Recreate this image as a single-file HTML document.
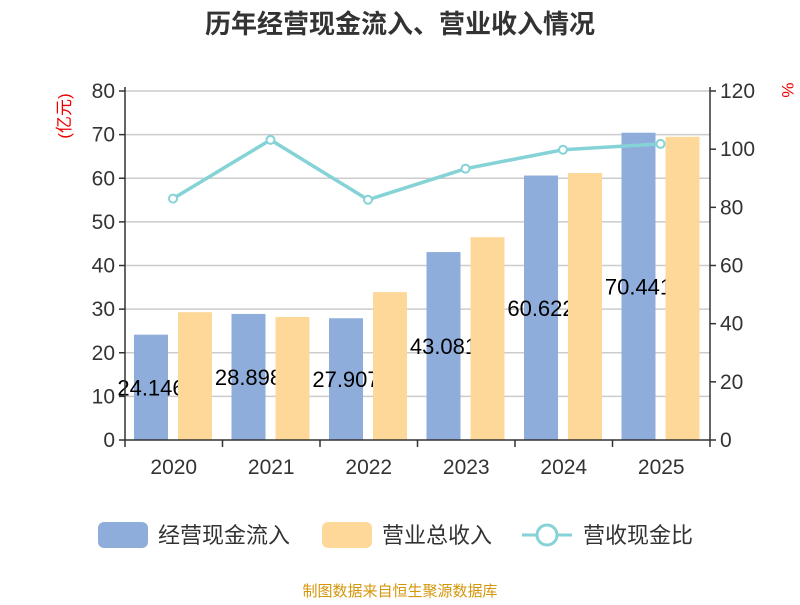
<!DOCTYPE html>
<html><head><meta charset="utf-8"><style>
body{margin:0;background:#fff;}
svg text{font-family:"Liberation Sans","Noto Sans CJK SC",sans-serif;}
</style></head><body>
<svg width="800" height="600" xmlns="http://www.w3.org/2000/svg">
<text x="400" y="33" text-anchor="middle" font-size="26" font-weight="bold" fill="#333">历年经营现金流入、营业收入情况</text>
<g id="grid"></g><g id="bars1"></g><g id="labels"></g><g id="bars2"></g><g id="axes"></g><g id="line"></g>
<text transform="translate(70,116) rotate(-90)" text-anchor="middle" font-size="17" fill="#e00">(亿元)</text>
<text transform="translate(782,90) rotate(90)" text-anchor="middle" font-size="17" fill="#e00">%</text>
<g>
<rect x="98" y="522" width="50" height="26" rx="6" fill="#8eaddb"/>
<text x="158" y="543" font-size="22" fill="#333">经营现金流入</text>
<rect x="322" y="522" width="50" height="26" rx="6" fill="#fed898"/>
<text x="382" y="543" font-size="22" fill="#333">营业总收入</text>
<line x1="522" y1="535" x2="572" y2="535" stroke="#85d3d6" stroke-width="3"/>
<circle cx="547" cy="535" r="10" fill="#fff" stroke="#85d3d6" stroke-width="3"/>
<text x="583" y="543" font-size="22" fill="#333">营收现金比</text>
</g>
<text x="400" y="596" text-anchor="middle" font-size="15" fill="#d4960a">制图数据来自恒生聚源数据库</text>
</svg>
<script>
const categories=["2020","2021","2022","2023","2024","2025"];
const cashValues=[24.146,28.898,27.907,43.081,60.622,70.441];
const cashLabels=["24.146","28.898","27.907","43.081","60.622","70.441"];
const revenueValues=[29.3,28.2,33.9,46.5,61.2,69.5];
const ratioValues=[83,103.2,82.6,93.3,99.8,101.8];
const leftTicks=[0,10,20,30,40,50,60,70,80];
const rightTicks=[0,20,40,60,80,100,120];
const NS="http://www.w3.org/2000/svg";
const X0=125,X1=710,Y0=440,Y1=91;
const band=(X1-X0)/categories.length;
const yL=v=>Y0-(v/80)*(Y0-Y1);
const yR=v=>Y0-(v/120)*(Y0-Y1);
function mk(tag,attrs,parent){const e=document.createElementNS(NS,tag);for(const k in attrs)e.setAttribute(k,attrs[k]);document.getElementById(parent).appendChild(e);return e;}
leftTicks.forEach(t=>{
 if(t>0){const g=mk("line",{x1:X0,x2:X1,y1:yL(t),y2:yL(t),stroke:"#ccc","stroke-width":1.5},"grid");
 
 }
 mk("line",{x1:X0-6,x2:X0,y1:yL(t),y2:yL(t),stroke:"#333","stroke-width":1.5},"axes");
 const tx=mk("text",{x:X0-10,y:yL(t)+7,"text-anchor":"end","font-size":21,fill:"#333"},"axes");tx.textContent=t;
 
 
});
rightTicks.forEach(t=>{
 mk("line",{x1:X1,x2:X1+6,y1:yR(t),y2:yR(t),stroke:"#333","stroke-width":1.5},"axes");
 const tx=mk("text",{x:X1+10,y:yR(t)+7,"font-size":21,fill:"#333"},"axes");tx.textContent=t;
 
 
});
mk("line",{x1:X0,x2:X0,y1:Y1-4,y2:Y0,stroke:"#333","stroke-width":1.5},"axes");
mk("line",{x1:X1,x2:X1,y1:Y1-4,y2:Y0,stroke:"#333","stroke-width":1.5},"axes");
mk("line",{x1:X0,x2:X1,y1:Y0,y2:Y0,stroke:"#333","stroke-width":1.5},"axes");
for(let i=0;i<=categories.length;i++)mk("line",{x1:X0+i*band,x2:X0+i*band,y1:Y0,y2:Y0+7,stroke:"#333","stroke-width":1.5},"axes");
const pts=[];
categories.forEach((c,i)=>{
 const bx=X0+i*band;
 const b1=mk("rect",{x:bx+9,y:yL(cashValues[i]),width:34,height:Y0-yL(cashValues[i]),fill:"#8eaddb"},"bars1");
 
 
 const b2=mk("rect",{x:bx+53,y:yL(revenueValues[i]),width:34,height:Y0-yL(revenueValues[i]),fill:"#fed898"},"bars2");
 
 
 const lb=mk("text",{x:bx+26,y:(yL(cashValues[i])+Y0)/2+8,"text-anchor":"middle","font-size":22,fill:"#000"},"labels");
 lb.textContent=cashLabels[i];
 
 
 const xt=mk("text",{x:bx+band/2,y:Y0+34,"text-anchor":"middle","font-size":21,fill:"#333"},"axes");
 xt.textContent=c;
 
 
 pts.push([bx+48,yR(ratioValues[i])]);
});
const pl=mk("polyline",{points:pts.map(p=>p.join(",")).join(" "),fill:"none",stroke:"#85d3d6","stroke-width":3.5},"line");


pts.forEach(p=>{
 const c=mk("circle",{cx:p[0],cy:p[1],r:4,fill:"#fff",stroke:"#85d3d6","stroke-width":2},"line");
 
 
});
</script>
</body></html>
